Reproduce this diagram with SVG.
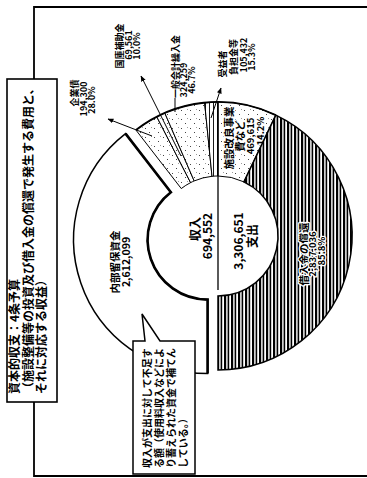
<svg xmlns="http://www.w3.org/2000/svg" width="367" height="478" viewBox="0 0 367 478">
<defs>
<style>
.t{font-family:"Noto Sans CJK JP","Liberation Sans",sans-serif;font-weight:bold;fill:#000;dominant-baseline:central}
.m{text-anchor:middle}
.h{stroke:#fff;stroke-width:2.5px;paint-order:stroke;stroke-linejoin:round}
.frame{fill:none;stroke:#000;stroke-width:1.8}
.sec{stroke:#000;stroke-width:1}
.thick{fill:none;stroke:#000;stroke-width:2.6;stroke-linejoin:miter}
.arr{stroke:#000;stroke-width:1;fill:none;marker-end:url(#ah)}
</style>
<marker id="ah" viewBox="0 0 10 10" refX="9" refY="5" markerWidth="6" markerHeight="6" orient="auto"><path d="M0,1 L10,5 L0,9 Z" fill="#000"/></marker>
<pattern id="dots" width="9" height="9" patternUnits="userSpaceOnUse"><rect width="9" height="9" fill="#fff"/><rect x="1" y="2" width="1" height="1" fill="#444"/><rect x="5" y="6" width="1" height="1" fill="#444"/><rect x="7" y="1" width="0.8" height="0.8" fill="#666"/></pattern>
<pattern id="vlite" width="4" height="10" patternUnits="userSpaceOnUse"><rect width="4" height="10" fill="#fff"/><rect x="1" width="0.9" height="10" fill="#000"/></pattern>
<pattern id="vdense" width="7" height="10" patternUnits="userSpaceOnUse"><rect width="7" height="10" fill="#fff"/><rect x="0" width="2.2" height="10" fill="#000"/><rect x="3.6" width="1.6" height="10" fill="#000"/></pattern>
</defs>
<rect width="367" height="478" fill="#fff"/>

<g id="frame">
<path class="frame" d="M34,79 V7 H367 M34,402 V476 H367"/>
</g>

<g id="title">
<rect x="7" y="79" width="50" height="323" fill="#fff" stroke="#000" stroke-width="1.6"/>
<text class="t" font-size="12" transform="translate(13.5,394) rotate(-90)">資本的収支：4条予算</text>
<text class="t" font-size="12" transform="translate(27,394) rotate(-90)">（施設整備等の投資及び借入金の償還で発生する費用と、</text>
<text class="t" font-size="12" transform="translate(40.5,394) rotate(-90)">それに対応する収益）</text>
</g>

<g id="naibu">
<path d="M125.54,133.67 A134,134 0 0 0 207.6,373.6 L207.6,299.6 A60,60 0 0 1 170.86,192.17 Z" fill="#fff" stroke="#000" stroke-width="1.5"/>
<path class="thick" d="M125.54,133.67 L170.86,192.17 A60,60 0 0 0 207.6,299.6 L207.6,373.6"/>
<text class="t m" font-size="10.5" transform="translate(114,262) rotate(-90)">内部留保資金</text>
<text class="t m" font-size="10.5" transform="translate(125,262) rotate(-90)">2,612,099</text>
</g>

<g id="kigyosai">
<path class="sec" d="M156.79,116.79 A134,134 0 0 0 135.94,130.07 L181.26,188.57 A60,60 0 0 1 190.59,182.62 Z" fill="url(#dots)"/>
<text class="t m" font-size="9" transform="translate(74,93) rotate(-90)">企業債</text>
<text class="t m" font-size="9" transform="translate(83,99) rotate(-90)">194,300</text>
<text class="t m" font-size="9" transform="translate(91,100) rotate(-90)">28.0%</text>
</g>

<g id="kokko">
<path class="sec" d="M164.80,113.01 A134,134 0 0 0 156.79,116.79 L190.59,182.62 A60,60 0 0 1 194.18,180.93 Z" fill="url(#dots)"/>
<text class="t m" font-size="9" transform="translate(119,46) rotate(-90)">国庫補助金</text>
<text class="t m" font-size="9" transform="translate(128,45) rotate(-90)">69,561</text>
<text class="t m" font-size="9" transform="translate(136,46) rotate(-90)">10.0%</text>
</g>

<g id="ippan">
<path class="sec" d="M204.60,102.67 A134,134 0 0 0 164.80,113.01 L194.18,180.93 A60,60 0 0 1 212.00,176.30 Z" fill="url(#dots)"/>
<text class="t" font-size="9" transform="translate(175,98) rotate(-90)">一般会計繰入金</text>
<text class="t m" font-size="9" transform="translate(183,80) rotate(-90)">324,259</text>
<text class="t m" font-size="9" transform="translate(191,80) rotate(-90)">46.7%</text>
</g>

<g id="juekisha">
<path class="sec" d="M218,102 A134,134 0 0 0 204.60,102.67 L212.00,176.30 A60,60 0 0 1 218,176 Z" fill="url(#vlite)"/>
<text class="t m" font-size="9" transform="translate(222,64) rotate(-90)">受益者</text>
<text class="t m" font-size="9" transform="translate(233,57) rotate(-90)">負担金等</text>
<text class="t m" font-size="9" transform="translate(243,55) rotate(-90)">105,432</text>
<text class="t m" font-size="9" transform="translate(251,57) rotate(-90)">15.3%</text>
</g>

<g id="shisetsu">
<path class="sec" d="M218,102 A134,134 0 0 1 275.81,115.11 L243.88,181.87 A60,60 0 0 0 218,176 Z" fill="url(#dots)"/>
<text class="t m h" font-size="10.5" transform="translate(228,138) rotate(-90)">施設改良事業</text>
<text class="t m h" font-size="10.5" transform="translate(239,136) rotate(-90)">費など</text>
<text class="t m h" font-size="9.5" transform="translate(250,136) rotate(-90)">469,615</text>
<text class="t m h" font-size="9.5" transform="translate(260,131) rotate(-90)">14.2%</text>
</g>

<g id="shokan">
<path d="M275.81,115.11 A134,134 0 0 1 218,370 L218,296 A60,60 0 0 0 243.88,181.87 Z" fill="url(#vdense)" stroke="#000" stroke-width="1.5"/>
<text class="t m h" font-size="10.5" transform="translate(303,254) rotate(-90)">借入金の償還</text>
<text class="t m h" font-size="9.5" transform="translate(312,254) rotate(-90)">2,837,036</text>
<text class="t m h" font-size="9.5" transform="translate(321,251) rotate(-90)">85.8%</text>
</g>

<g id="outer-arc">
<path d="M135.94,130.07 A134,134 0 0 1 275.81,115.11" fill="none" stroke="#000" stroke-width="1.8"/>
</g>

<g id="center">
<line x1="218" y1="102" x2="218" y2="290" stroke="#000" stroke-width="1.3"/>
<text class="t m" font-size="12" transform="translate(194,229) rotate(-90)">収入</text>
<text class="t m" font-size="12" transform="translate(206,236) rotate(-90)">694,552</text>
<text class="t m" font-size="12" transform="translate(237,241) rotate(-90)">3,306,651</text>
<text class="t m" font-size="12" transform="translate(251,236) rotate(-90)">支出</text>
</g>

<g id="callout">
<path d="M133,341 L145,341 L142,314 L160,341 L195,341 L195,474 L133,474 Z" fill="#fff" stroke="#000" stroke-width="1.5"/>
<text class="t" font-size="10" transform="translate(146,468) rotate(-90)">収入が支出に対して不足す</text>
<text class="t" font-size="10" transform="translate(158,468) rotate(-90)">る額（使用料収入などによ</text>
<text class="t" font-size="10" transform="translate(170,468) rotate(-90)">り蓄えられた資金で補てん</text>
<text class="t" font-size="10" transform="translate(182,468) rotate(-90)">している。）</text>
</g>

<g id="connectors">
<line class="arr" x1="152" y1="136" x2="108" y2="119"/>
<line class="arr" x1="181" y1="156" x2="141" y2="76"/>
<line class="arr" x1="211" y1="118" x2="221" y2="88"/>
<line x1="175" y1="98" x2="175" y2="112" stroke="#000" stroke-width="1"/>
</g>
</svg>
